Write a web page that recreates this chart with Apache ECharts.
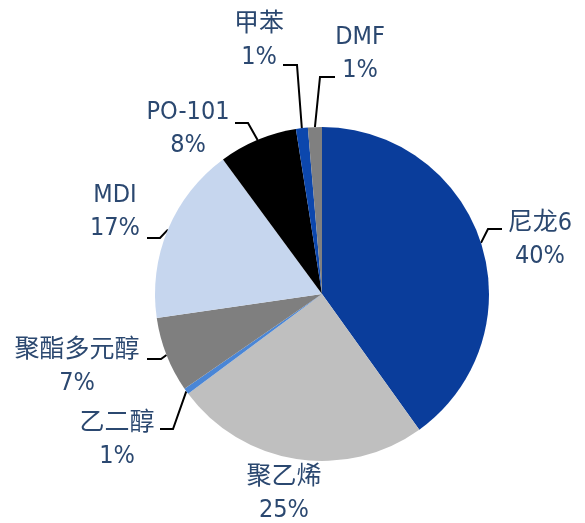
<!DOCTYPE html>
<html lang="zh">
<head>
    <meta charset="UTF-8">
    <title>pie</title>
    <script src="https://cdn.jsdelivr.net/npm/echarts@6/dist/echarts.min.js"></script>
    <style>
        body { margin: 0; background: #fff; }
    </style>
</head>
<body>
    <div id="main" style="width: 585px;height:523px;"></div>
    <script type="text/javascript">
        // slice names, clockwise from 12 o'clock
        const names = ['尼龙6', '聚乙烯', '乙二醇', '聚酯多元醇', 'MDI', 'PO-101', '甲苯', 'DMF'];
        // shares
        const values = [40.1, 24.7, 0.6, 7.3, 17.2, 7.6, 1.15, 1.35];
        // percentages as printed on the chart
        const pctLabels = ['40%', '25%', '1%', '7%', '17%', '8%', '1%', '1%'];
        const colors = ['#0a3d9b', '#bfbfbf', '#4a86d6', '#7f7f7f', '#c6d6ee', '#000000', '#0c47ad', '#808080'];

        // where each label sits and how its leader line bends (null = no line)
        const labelPos = [
            { x: 540, y: 240, line: [[488, 229], [502, 229]] },
            { x: 284, y: 494, line: null },
            { x: 117, y: 440, line: [[173, 429], [160, 429]] },
            { x: 77, y: 367, line: [[161, 359], [147, 359]] },
            { x: 115, y: 212, line: [[160, 238], [147, 238]] },
            { x: 188, y: 129, line: [[248, 123], [235, 123]] },
            { x: 259, y: 41, line: [[297, 65], [283, 65]] },
            { x: 360, y: 54, line: [[320, 77], [335, 77]] }
        ];

        let myChart = echarts.init(document.getElementById('main'));

        const seriesData = names.map((n, i) => ({
            name: n,
            value: values[i],
            itemStyle: { color: colors[i] },
            labelLine: { show: labelPos[i].line !== null }
        }));

        const fontFam = '"DejaVu Sans Condensed", "Noto Sans CJK SC", sans-serif';

        let options = {
            animation: false,
            series: [{
                type: 'pie',
                center: [322, 294],
                radius: 167,
                startAngle: 90,
                clockwise: true,
                avoidLabelOverlap: false,
                itemStyle: { borderWidth: 0 },
                label: {
                    show: true,
                    position: 'outside',
                    fontSize: 25,
                    lineHeight: 33,
                    color: '#2b4870',
                    fontFamily: fontFam,
                    formatter: p => '{n|' + p.name + '}\n{p|' + pctLabels[p.dataIndex] + '}',
                    rich: {
                        n: { fontSize: 25, lineHeight: 33, color: '#2b4870', fontFamily: fontFam },
                        p: { fontSize: 25, lineHeight: 33, color: '#2b4870', fontFamily: fontFam }
                    }
                },
                labelLine: {
                    show: true,
                    lineStyle: { color: '#000', width: 2 }
                },
                labelLayout: function (params) {
                    const lp = labelPos[params.dataIndex];
                    const out = {
                        x: lp.x,
                        y: lp.y,
                        align: 'center',
                        verticalAlign: 'middle'
                    };
                    if (lp.line && params.labelLinePoints) {
                        out.labelLinePoints = [params.labelLinePoints[0], lp.line[0], lp.line[1]];
                    }
                    return out;
                },
                data: seriesData
            }]
        };

        myChart.setOption(options);
    </script>
</body>
</html>
